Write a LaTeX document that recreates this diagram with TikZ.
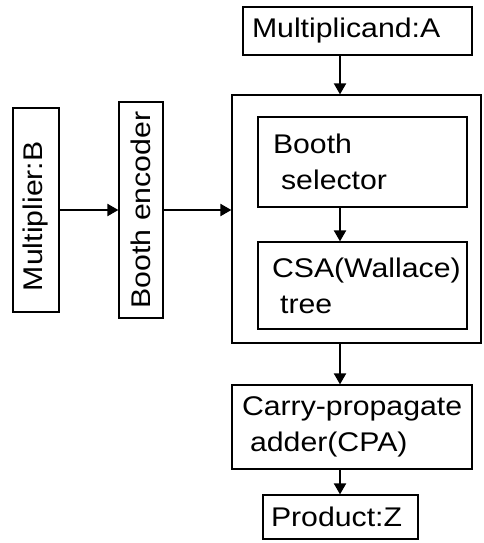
\documentclass[tikz,border=0pt]{standalone}
\usepackage{fontspec}
\setmainfont{Liberation Sans}[FakeStretch=1.12]
\usetikzlibrary{arrows.meta, positioning}

\begin{document}
\begin{tikzpicture}[
    x=1pt, y=-1pt,
    font=\fontsize{27}{36}\selectfont,
    block/.style={draw, line width=1.2pt, align=left, inner ysep=0pt},
    vblock/.style={draw, line width=1.2pt, rotate=90, inner sep=0pt},
    arrow/.style={-{Triangle[length=11pt, width=12pt]}, line width=2pt}
]
\useasboundingbox (0,0) rectangle (483,543);
\node[block, minimum width=229pt, minimum height=48pt, inner xsep=9pt, text width=211pt] (mcand) at (357.5,31) {Multiplicand:A};
\node[block, minimum width=249pt, minimum height=248pt] (core) at (356.5,219) {};
\node[block, minimum width=209pt, minimum height=90pt, inner xsep=15pt, text width=179pt] (selector) at (362.5,162) {Booth\\\hspace*{0.3em}selector};
\node[block, minimum width=209pt, minimum height=87pt, inner xsep=14pt, text width=181pt] (csa) at (362.5,285.5) {CSA(Wallace)\\\hspace*{0.3em}tree};
\node[block, minimum width=240pt, minimum height=84pt, inner xsep=10pt, text width=220pt] (cpa) at (352,427) {\mbox{Carry-propagate}\\\hspace*{0.3em}adder(CPA)};
\node[block, minimum width=155pt, minimum height=44pt, inner xsep=8pt, text width=139pt] (product) at (340.5,517) {Product:Z};
\node[vblock, minimum width=204pt, minimum height=46pt, align=left, inner xsep=21pt, text width=162pt] (mult) at (36,210) {Multiplier:B};
\node[vblock, minimum width=216pt, minimum height=44pt] (enc) at (141,210) {Booth encoder};
\coordinate (spine) at (340,0);
\draw[arrow] (mcand.south -| spine) -- (core.north -| spine);
\draw[arrow] (selector.south -| spine) -- (csa.north -| spine);
\draw[arrow] (core.south -| spine) -- (cpa.north -| spine);
\draw[arrow] (cpa.south -| spine) -- (product.north -| spine);
\draw[arrow] (mult) -- (enc);
\draw[arrow] (enc.south) -- (enc.south -| core.west);
\end{tikzpicture}
\end{document}
